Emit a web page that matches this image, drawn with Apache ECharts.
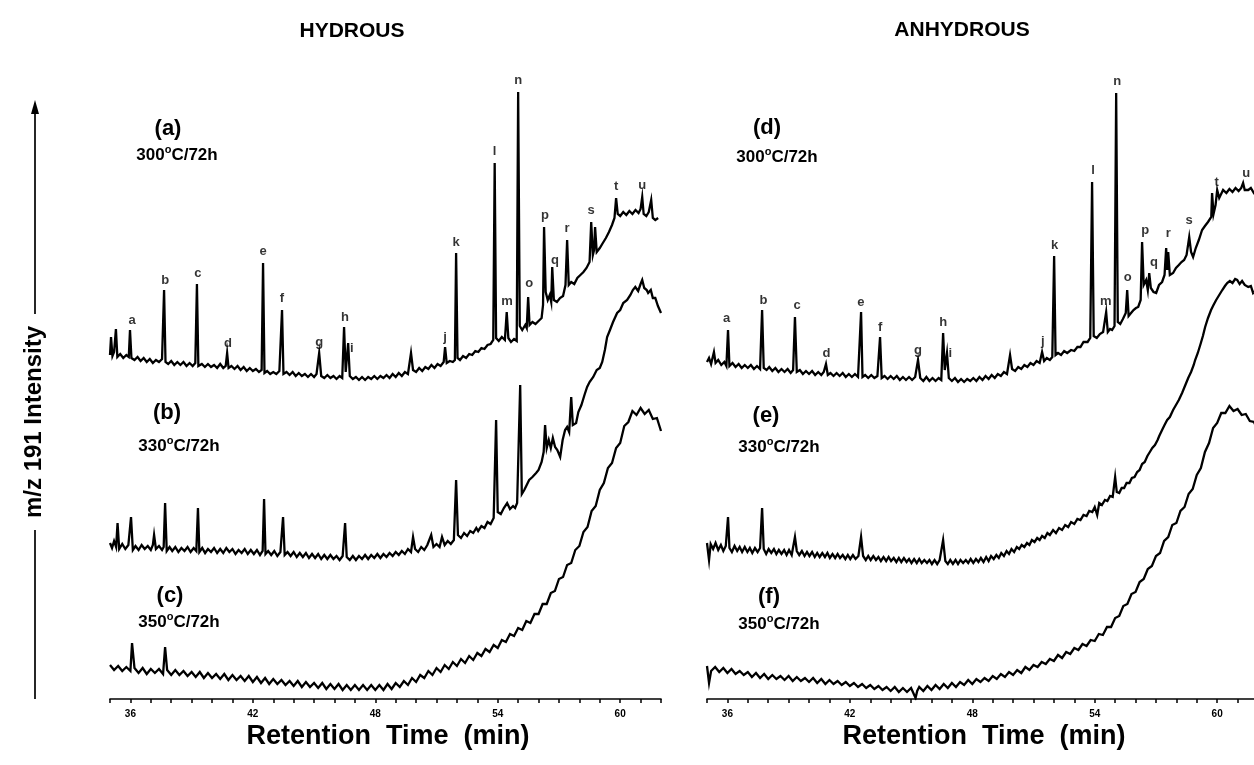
<!DOCTYPE html>
<html><head><meta charset="utf-8">
<script src="https://cdn.jsdelivr.net/npm/echarts/dist/echarts.min.js"></script>
<style>html,body{margin:0;padding:0;background:#fff}#c{width:1254px;height:765px}</style>
</head><body><div id="c"></div>
<script>
const FONT = '"Liberation Sans", Arial, Helvetica, sans-serif';
const panelTitles = ['HYDROUS', 'ANHYDROUS'];
const traceNames = ['(a)', '(b)', '(c)', '(d)', '(e)', '(f)'];
const traceTemps = ['300', '330', '350', '300', '330', '350'];
const tickLabels = [36, 42, 48, 54, 60];
const xTitle = 'Retention  Time  (min)';
const yTitle = 'm/z 191 Intensity';
const peakLetters = ['a','b','c','d','e','f','g','h','i','j','k','l','m','n','o','p','q','r','s','t','u'];
const hydLabelTimes   = [36.08,37.70,39.31,40.78,42.50,43.43,45.25,46.52,46.85,51.42,51.96,53.85,54.46,55.00,55.54,56.32,56.80,57.40,58.58,59.80,61.08];
const hydLabelHeights = [80,120,127,57,149,102,58,83,52,63,158,249,99,320,117,185,140,172,190,214,215];
const anhLabelTimes   = [35.96,37.77,39.41,40.86,42.54,43.48,45.34,46.57,46.92,51.46,52.03,53.92,54.54,55.10,55.62,56.47,56.90,57.60,58.63,59.98,61.42];
const anhLabelHeights = [82,100,95,47,98,73,50,78,47,59,155,230,99,319,123,170,138,167,180,218,227];

// (a) hydrous 300 C
const traceA = [[35.00,45],[35.05,63],[35.12,44],[35.20,48],[35.29,71],[35.36,43],[35.50,46],[35.65,42],[35.80,45],[35.92,43],[35.98,70],[36.05,42],[36.20,40],[36.35,43],[36.50,39],[36.65,42],[36.80,38],[36.95,41],[37.10,37],[37.25,40],[37.40,38],[37.55,41],[37.65,110],[37.72,38],[37.85,36],[38.00,39],[38.15,35],[38.30,38],[38.45,35],[38.60,38],[38.75,34],[38.90,37],[39.05,34],[39.18,37],[39.26,116],[39.33,34],[39.50,36],[39.65,33],[39.80,36],[39.95,33],[40.10,35],[40.25,32],[40.40,36],[40.55,32],[40.67,34],[40.74,47],[40.81,32],[40.95,34],[41.10,31],[41.25,34],[41.40,30],[41.55,33],[41.70,29],[41.85,32],[42.00,29],[42.15,31],[42.30,28],[42.43,30],[42.50,137],[42.57,27],[42.70,29],[42.85,26],[43.00,28],[43.15,26],[43.30,29],[43.43,90],[43.50,26],[43.65,28],[43.80,25],[43.95,28],[44.10,24],[44.25,27],[44.40,24],[44.55,26],[44.70,23],[44.85,26],[45.00,23],[45.12,26],[45.25,47],[45.35,24],[45.50,22],[45.65,25],[45.80,22],[45.95,24],[46.10,21],[46.25,24],[46.38,22],[46.47,73],[46.55,28],[46.67,57],[46.75,24],[46.90,21],[47.05,23],[47.20,20],[47.35,23],[47.50,20],[47.65,23],[47.80,21],[47.95,24],[48.10,21],[48.25,24],[48.40,22],[48.55,25],[48.70,22],[48.85,26],[49.00,23],[49.15,27],[49.30,24],[49.45,28],[49.60,26],[49.75,47],[49.85,30],[50.00,28],[50.15,32],[50.30,29],[50.45,33],[50.60,31],[50.75,35],[50.90,32],[51.05,36],[51.20,34],[51.35,38],[51.42,53],[51.50,37],[51.65,39],[51.80,38],[51.90,40],[51.96,147],[52.03,42],[52.15,40],[52.30,44],[52.45,42],[52.60,46],[52.75,45],[52.90,49],[53.05,48],[53.20,52],[53.35,51],[53.50,55],[53.65,56],[53.78,60],[53.85,237],[53.92,62],[54.05,59],[54.20,63],[54.35,60],[54.44,88],[54.52,62],[54.65,58],[54.80,61],[54.93,59],[55.00,308],[55.08,74],[55.20,70],[55.35,75],[55.42,72],[55.49,103],[55.56,75],[55.70,78],[55.85,76],[56.00,79],[56.15,82],[56.22,95],[56.27,173],[56.35,108],[56.45,100],[56.55,105],[56.62,98],[56.67,133],[56.75,100],[56.90,98],[57.05,102],[57.20,104],[57.32,115],[57.40,160],[57.48,115],[57.60,118],[57.75,116],[57.90,122],[58.05,125],[58.20,128],[58.35,132],[58.50,138],[58.58,178],[58.66,145],[58.72,150],[58.77,173],[58.85,148],[59.00,152],[59.15,157],[59.30,162],[59.45,168],[59.60,175],[59.72,182],[59.80,202],[59.88,186],[60.00,184],[60.15,188],[60.30,185],[60.45,189],[60.60,186],[60.75,190],[60.90,187],[61.00,191],[61.08,203],[61.15,186],[61.28,184],[61.40,188],[61.52,200],[61.60,182],[61.72,180],[61.86,182]];

// (b) hydrous 330 C
const traceB = [[35.00,57],[35.10,52],[35.20,59],[35.30,53],[35.37,77],[35.45,51],[35.60,56],[35.75,51],[35.90,55],[36.03,83],[36.12,50],[36.25,54],[36.40,50],[36.55,55],[36.70,51],[36.85,54],[37.00,50],[37.10,55],[37.16,65],[37.25,51],[37.40,54],[37.55,50],[37.63,53],[37.70,97],[37.78,49],[37.92,53],[38.05,49],[38.20,53],[38.35,48],[38.50,52],[38.65,49],[38.80,53],[38.95,48],[39.10,52],[39.23,49],[39.31,92],[39.38,48],[39.52,52],[39.66,47],[39.80,51],[39.95,48],[40.10,52],[40.25,47],[40.40,51],[40.55,47],[40.70,52],[40.85,48],[41.00,51],[41.15,46],[41.30,50],[41.45,47],[41.60,51],[41.75,46],[41.90,50],[42.05,46],[42.20,50],[42.35,45],[42.48,49],[42.55,101],[42.62,46],[42.75,49],[42.90,45],[43.05,49],[43.20,44],[43.35,48],[43.48,83],[43.56,45],[43.70,48],[43.85,44],[44.00,48],[44.15,43],[44.30,47],[44.45,43],[44.60,47],[44.75,42],[44.90,46],[45.05,42],[45.20,46],[45.35,41],[45.50,45],[45.65,41],[45.80,45],[45.95,41],[46.10,44],[46.25,40],[46.40,44],[46.52,77],[46.60,43],[46.75,40],[46.90,44],[47.05,40],[47.20,44],[47.35,41],[47.50,45],[47.65,41],[47.80,45],[47.95,42],[48.10,46],[48.25,42],[48.40,46],[48.55,43],[48.70,47],[48.85,44],[49.00,48],[49.15,45],[49.30,49],[49.45,46],[49.60,51],[49.75,48],[49.85,63],[49.95,51],[50.10,48],[50.25,53],[50.40,50],[50.55,55],[50.74,65],[50.85,53],[51.00,56],[51.15,53],[51.27,63],[51.40,55],[51.55,59],[51.70,56],[51.85,60],[51.96,120],[52.05,65],[52.20,62],[52.35,67],[52.50,64],[52.65,69],[52.80,67],[52.95,72],[53.04,69],[53.20,74],[53.35,72],[53.50,78],[53.65,76],[53.80,82],[53.92,180],[54.00,88],[54.15,86],[54.30,92],[54.46,97],[54.60,91],[54.75,94],[54.85,92],[54.95,97],[55.10,215],[55.18,106],[55.30,110],[55.42,115],[55.54,120],[55.70,123],[55.88,127],[56.00,130],[56.15,138],[56.25,148],[56.32,175],[56.40,152],[56.50,160],[56.60,152],[56.70,162],[56.81,153],[56.92,150],[57.06,143],[57.18,160],[57.30,170],[57.40,173],[57.50,168],[57.60,203],[57.68,175],[57.84,177],[57.95,188],[58.10,195],[58.25,205],[58.38,213],[58.50,218],[58.68,223],[58.85,230],[59.00,232],[59.12,238],[59.25,250],[59.36,263],[59.50,270],[59.65,278],[59.85,287],[60.00,290],[60.15,297],[60.34,300],[60.50,305],[60.62,310],[60.74,313],[60.88,309],[61.00,316],[61.08,320],[61.18,312],[61.30,310],[61.37,307],[61.50,310],[61.60,302],[61.72,302],[61.85,294],[62.00,287]];

// (c) hydrous 350 C
const traceC = [[35.0,34],[35.2,29],[35.4,33],[35.6,28],[35.8,32],[36.0,28],[36.08,56],[36.2,31],[36.4,26],[36.6,31],[36.8,25],[37.0,30],[37.2,26],[37.4,30],[37.6,25],[37.7,52],[37.8,29],[38.0,24],[38.2,29],[38.4,24],[38.6,28],[38.8,23],[39.0,27],[39.2,22],[39.4,27],[39.6,21],[39.8,26],[40.0,21],[40.2,25],[40.4,20],[40.6,25],[40.8,19],[41.0,24],[41.2,19],[41.4,23],[41.6,18],[41.8,23],[42.0,17],[42.2,22],[42.4,16],[42.6,21],[42.8,15],[43.0,20],[43.2,15],[43.4,19],[43.6,14],[43.8,18],[44.0,13],[44.2,18],[44.4,12],[44.6,17],[44.8,12],[45.0,16],[45.2,11],[45.4,16],[45.6,10],[45.8,15],[46.0,10],[46.2,15],[46.4,9],[46.6,14],[46.8,9],[47.0,14],[47.2,9],[47.4,14],[47.6,9],[47.8,14],[48.0,9],[48.2,14],[48.4,9],[48.6,15],[48.8,10],[49.0,16],[49.2,12],[49.4,18],[49.6,14],[49.8,21],[50.0,17],[50.2,24],[50.4,21],[50.6,28],[50.8,24],[51.0,31],[51.2,27],[51.4,34],[51.6,30],[51.8,37],[52.0,33],[52.2,40],[52.4,36],[52.6,43],[52.8,39],[53.0,46],[53.2,43],[53.4,50],[53.6,47],[53.8,54],[54.0,51],[54.2,59],[54.4,57],[54.6,65],[54.8,63],[55.0,71],[55.2,69],[55.4,78],[55.6,76],[55.8,85],[56.0,85],[56.2,95],[56.4,95],[56.6,106],[56.8,108],[57.0,120],[57.2,122],[57.4,134],[57.6,136],[57.8,149],[58.0,153],[58.2,167],[58.4,172],[58.6,188],[58.8,193],[59.0,209],[59.2,216],[59.4,231],[59.6,236],[59.8,251],[60.0,256],[60.2,273],[60.4,277],[60.6,288],[60.8,284],[61.0,291],[61.2,285],[61.4,289],[61.6,280],[61.8,281],[62.0,268]];

// (d) anhydrous 300 C
const traceD = [[35.00,38],[35.10,42],[35.20,36],[35.34,48],[35.42,37],[35.55,40],[35.70,35],[35.85,38],[35.95,34],[36.03,70],[36.10,34],[36.25,37],[36.40,33],[36.55,36],[36.70,32],[36.85,35],[37.00,32],[37.15,35],[37.30,31],[37.45,34],[37.60,31],[37.70,90],[37.78,32],[37.92,30],[38.05,33],[38.20,29],[38.35,32],[38.50,28],[38.65,31],[38.80,28],[38.95,31],[39.10,27],[39.22,30],[39.31,83],[39.40,28],[39.55,30],[39.70,26],[39.85,29],[40.00,26],[40.15,29],[40.30,25],[40.45,28],[40.60,25],[40.72,28],[40.83,36],[40.92,25],[41.05,27],[41.20,24],[41.35,27],[41.50,24],[41.65,27],[41.80,23],[41.95,26],[42.10,23],[42.25,26],[42.40,23],[42.48,25],[42.55,88],[42.62,23],[42.75,25],[42.90,22],[43.05,25],[43.20,22],[43.35,24],[43.48,63],[43.56,22],[43.70,24],[43.85,21],[44.00,24],[44.15,21],[44.30,24],[44.45,20],[44.60,23],[44.75,20],[44.90,23],[45.05,20],[45.20,23],[45.34,40],[45.45,22],[45.60,19],[45.75,23],[45.90,19],[46.05,22],[46.20,19],[46.35,22],[46.48,20],[46.57,67],[46.65,30],[46.76,47],[46.85,22],[47.00,19],[47.15,22],[47.30,18],[47.45,21],[47.60,18],[47.75,21],[47.90,19],[48.05,22],[48.20,19],[48.35,23],[48.50,20],[48.65,24],[48.80,21],[48.95,25],[49.10,22],[49.25,26],[49.40,24],[49.55,28],[49.70,26],[49.85,45],[49.95,31],[50.10,29],[50.25,33],[50.40,31],[50.55,35],[50.70,33],[50.85,37],[51.00,35],[51.15,39],[51.30,37],[51.42,48],[51.52,39],[51.65,42],[51.80,40],[51.92,43],[52.01,144],[52.08,45],[52.20,47],[52.35,45],[52.50,49],[52.65,47],[52.84,50],[53.00,49],[53.15,53],[53.30,53],[53.45,58],[53.53,60],[53.65,58],[53.78,62],[53.87,218],[53.95,64],[54.10,62],[54.25,66],[54.41,68],[54.50,70],[54.56,88],[54.64,68],[54.75,71],[54.85,70],[54.97,74],[55.05,307],[55.13,78],[55.25,76],[55.38,81],[55.44,83],[55.52,87],[55.59,110],[55.66,84],[55.78,87],[55.90,90],[56.02,92],[56.13,93],[56.25,100],[56.32,158],[56.40,115],[56.52,120],[56.60,110],[56.67,127],[56.75,112],[56.88,108],[57.01,107],[57.15,115],[57.30,118],[57.42,125],[57.50,152],[57.55,130],[57.60,148],[57.68,125],[57.84,127],[57.98,132],[58.12,135],[58.25,138],[58.38,140],[58.50,145],[58.63,163],[58.72,148],[58.82,143],[58.95,152],[59.10,160],[59.26,170],[59.40,174],[59.55,178],[59.71,183],[59.75,207],[59.82,186],[59.92,195],[60.00,210],[60.10,202],[60.29,210],[60.45,207],[60.60,211],[60.75,208],[60.90,212],[61.05,209],[61.18,212],[61.27,217],[61.35,210],[61.52,210],[61.65,212],[61.80,207],[61.96,203]];

// (e) anhydrous 330 C
const traceE = [[35.00,57],[35.10,40],[35.18,56],[35.30,51],[35.42,57],[35.55,50],[35.68,55],[35.80,49],[35.92,54],[36.03,83],[36.10,52],[36.22,48],[36.35,54],[36.48,49],[36.60,53],[36.72,48],[36.85,53],[36.98,48],[37.10,52],[37.22,47],[37.35,52],[37.48,48],[37.60,52],[37.70,92],[37.78,51],[37.90,46],[38.02,51],[38.15,47],[38.28,51],[38.40,46],[38.52,50],[38.65,46],[38.78,50],[38.90,45],[39.02,50],[39.15,45],[39.31,63],[39.40,49],[39.52,45],[39.65,49],[39.78,44],[39.90,48],[40.02,44],[40.15,48],[40.28,43],[40.40,47],[40.52,43],[40.65,47],[40.78,43],[40.90,47],[41.02,42],[41.15,46],[41.28,42],[41.40,46],[41.52,42],[41.65,45],[41.78,41],[41.90,45],[42.02,41],[42.15,45],[42.28,41],[42.42,44],[42.55,63],[42.65,44],[42.78,40],[42.90,44],[43.02,40],[43.15,44],[43.28,40],[43.40,43],[43.52,39],[43.65,43],[43.78,39],[43.90,43],[44.02,39],[44.15,42],[44.28,38],[44.40,42],[44.52,38],[44.65,42],[44.78,38],[44.90,41],[45.02,37],[45.15,41],[45.28,37],[45.40,41],[45.52,37],[45.65,40],[45.78,37],[45.90,40],[46.02,36],[46.15,40],[46.28,36],[46.40,40],[46.57,60],[46.68,39],[46.80,36],[46.92,40],[47.05,36],[47.18,40],[47.30,36],[47.42,40],[47.55,37],[47.68,40],[47.80,37],[47.92,41],[48.05,37],[48.18,41],[48.30,38],[48.42,42],[48.55,38],[48.68,43],[48.80,39],[48.92,44],[49.05,41],[49.18,45],[49.30,42],[49.42,47],[49.55,44],[49.68,49],[49.80,46],[49.92,51],[50.05,48],[50.18,53],[50.30,51],[50.42,55],[50.55,53],[50.68,57],[50.80,55],[50.92,60],[51.05,58],[51.18,62],[51.30,60],[51.42,64],[51.55,62],[51.68,67],[51.80,65],[51.96,70],[52.10,67],[52.25,72],[52.40,70],[52.55,75],[52.70,73],[52.84,78],[53.00,76],[53.15,81],[53.30,80],[53.45,85],[53.60,84],[53.73,89],[53.88,88],[54.00,93],[54.12,85],[54.22,97],[54.35,95],[54.50,100],[54.62,99],[54.75,104],[54.88,103],[55.00,123],[55.08,108],[55.20,107],[55.32,112],[55.44,112],[55.56,117],[55.70,117],[55.82,122],[55.95,123],[56.08,128],[56.20,130],[56.32,136],[56.45,138],[56.58,144],[56.70,148],[56.82,152],[56.95,155],[57.08,160],[57.16,164],[57.30,170],[57.42,175],[57.55,180],[57.68,183],[57.84,190],[57.98,195],[58.12,200],[58.28,207],[58.42,214],[58.58,222],[58.72,228],[58.85,235],[58.92,240],[59.05,247],[59.20,257],[59.30,264],[59.41,273],[59.55,282],[59.70,290],[59.82,295],[59.95,300],[60.10,305],[60.25,310],[60.38,314],[60.49,317],[60.62,319],[60.75,317],[60.88,321],[60.98,320],[61.10,316],[61.22,319],[61.35,315],[61.52,313],[61.65,314],[61.76,307],[61.90,310],[62.00,304]];

// (f) anhydrous 350 C
const traceF = [[35.0,33],[35.1,16],[35.2,28],[35.4,32],[35.6,27],[35.8,31],[36.0,26],[36.2,30],[36.4,25],[36.6,28],[36.8,24],[37.0,27],[37.2,22],[37.4,26],[37.6,21],[37.8,25],[38.0,20],[38.2,24],[38.4,20],[38.6,23],[38.8,19],[39.0,23],[39.2,18],[39.4,22],[39.6,18],[39.8,21],[40.0,17],[40.2,21],[40.4,16],[40.6,20],[40.8,15],[41.0,19],[41.2,15],[41.4,18],[41.6,14],[41.8,17],[42.0,13],[42.2,16],[42.4,12],[42.6,15],[42.8,11],[43.0,14],[43.2,10],[43.4,13],[43.6,9],[43.8,12],[44.0,8],[44.2,12],[44.4,7],[44.6,11],[44.8,7],[45.0,11],[45.22,1],[45.3,8],[45.4,12],[45.6,8],[45.8,13],[46.0,9],[46.2,14],[46.4,10],[46.6,15],[46.8,11],[47.0,16],[47.2,12],[47.4,17],[47.6,14],[47.8,19],[48.0,15],[48.2,20],[48.4,17],[48.6,21],[48.8,18],[49.0,23],[49.2,20],[49.4,25],[49.6,22],[49.8,27],[50.0,24],[50.2,29],[50.4,26],[50.6,32],[50.8,29],[51.0,34],[51.2,32],[51.4,37],[51.6,35],[51.8,40],[52.0,38],[52.2,44],[52.4,41],[52.6,47],[52.8,45],[53.0,51],[53.2,49],[53.4,55],[53.6,53],[53.8,59],[54.0,58],[54.2,65],[54.4,64],[54.6,72],[54.8,72],[55.0,81],[55.2,83],[55.4,93],[55.6,95],[55.8,105],[56.0,107],[56.2,117],[56.4,120],[56.6,130],[56.8,133],[57.0,143],[57.2,146],[57.4,158],[57.6,162],[57.8,174],[58.0,176],[58.2,188],[58.4,192],[58.6,205],[58.8,210],[59.0,224],[59.2,231],[59.4,247],[59.6,256],[59.8,271],[60.0,276],[60.2,286],[60.4,286],[60.6,293],[60.8,288],[61.0,290],[61.2,284],[61.4,285],[61.6,278],[61.8,277],[62.0,269]];

const traces = [traceA, traceB, traceC, traceD, traceE, traceF];

// ---------- layout ----------
const panelLeft = [110, 707];
const panelWidth = 551;
const traceTop = [60, 260, 359];
const traceH = 340;
const X_MIN = 35, X_MAX = 62;

const grids = [], xAxes = [], yAxes = [], series = [];
for (let p = 0; p < 2; p++) {
  for (let r = 0; r < 3; r++) {
    const i = p * 3 + r;
    grids.push({ left: panelLeft[p], width: panelWidth, top: traceTop[r], height: traceH, containLabel: false, outerBoundsMode: 'none' });
    const showAxis = r === 2;
    xAxes.push({
      type: 'value', gridIndex: i, min: X_MIN, max: X_MAX, interval: 1, show: showAxis,
      axisLine: { show: true, onZero: false, lineStyle: { color: '#000', width: 1.7 } },
      axisTick: { show: true, length: 4, inside: false, lineStyle: { color: '#000', width: 1.5 } },
      splitLine: { show: false },
      axisLabel: {
        show: true, margin: 10, color: '#000', fontFamily: FONT, fontWeight: 'bold', fontSize: 10,
        showMinLabel: true, showMaxLabel: true,
        formatter: v => tickLabels.indexOf(Math.round(v)) >= 0 && Math.abs(v - Math.round(v)) < 1e-6 ? String(Math.round(v)) : ''
      }
    });
    yAxes.push({ type: 'value', gridIndex: i, min: 0, max: traceH, show: false, splitLine: { show: false } });
    series.push({
      type: 'line', xAxisIndex: i, yAxisIndex: i, data: traces[i],
      showSymbol: false, symbol: 'none', smooth: false, silent: true, animation: false,
      lineStyle: { color: '#000', width: 2.3, join: 'miter' }, z: 2
    });
  }
}

function labelSeries(axisIdx, times, heights) {
  return {
    type: 'scatter', xAxisIndex: axisIdx, yAxisIndex: axisIdx, silent: true, animation: false,
    symbol: 'circle', symbolSize: 1, itemStyle: { color: 'rgba(0,0,0,0)' }, z: 5,
    data: peakLetters.map((L, k) => ({ name: L, value: [times[k], heights[k]] })),
    label: { show: true, position: 'inside', formatter: '{b}', color: '#000',
             fontFamily: FONT, fontWeight: 'bold', fontSize: 13 }
  };
}
series.push(labelSeries(0, hydLabelTimes, hydLabelHeights));
series.push(labelSeries(3, anhLabelTimes, anhLabelHeights));

// ---------- text ----------
const txt = (x, y, text, size, extra) => ({
  type: 'text', x: x, y: y, silent: true, z: 10,
  style: Object.assign({ text: text, fill: '#000', font: 'bold ' + size + 'px ' + FONT, align: 'center', verticalAlign: 'middle' }, extra || {})
});
const supRich = { s: { fontSize: 11, fontWeight: 'bold', fontFamily: FONT, fill: '#000', padding: [0, 0, 10, 0] } };
const namePos = [[168, 129], [167, 413], [170, 596], [767, 128], [766, 416], [769, 597]];
const tempPos = [[177, 155], [179, 446], [179, 622], [777, 157], [779, 447], [779, 624]];
const yLabel = txt(34, 422, yTitle, 24);
yLabel.rotation = Math.PI / 2;
const graphic = [
  txt(352, 31, panelTitles[0], 21),
  txt(962, 30, panelTitles[1], 21),
  txt(388, 737, xTitle, 27),
  txt(984, 737, xTitle, 27),
  yLabel,
  { type: 'line', silent: true, shape: { x1: 35, y1: 699, x2: 35, y2: 530 }, style: { stroke: '#000', lineWidth: 1.7 } },
  { type: 'line', silent: true, shape: { x1: 35, y1: 314, x2: 35, y2: 112 }, style: { stroke: '#000', lineWidth: 1.7 } },
  { type: 'polygon', silent: true, shape: { points: [[31, 114], [39, 114], [35, 100]] }, style: { fill: '#000' } }
];
for (let i = 0; i < 6; i++) {
  graphic.push(txt(namePos[i][0], namePos[i][1], traceNames[i], 22));
  graphic.push(txt(tempPos[i][0], tempPos[i][1], traceTemps[i] + '{s|o}C/72h', 17, { rich: supRich }));
}

const chart = echarts.init(document.getElementById('c'), null, { renderer: 'canvas' });
chart.setOption({
  animation: false, backgroundColor: '#fff',
  grid: grids, xAxis: xAxes, yAxis: yAxes, series: series, graphic: graphic
});
</script></body></html>
